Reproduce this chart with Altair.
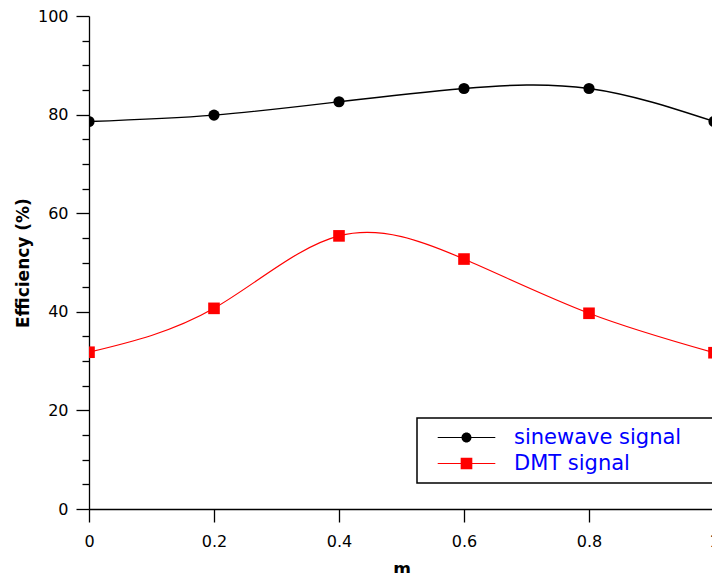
import altair as alt
import pandas as pd

# ---- data ----
m_values = [0.0, 0.2, 0.4, 0.6, 0.8, 1.0]
sinewave = [78.6, 79.9, 82.6, 85.3, 85.3, 78.6]
dmt = [31.8, 40.7, 55.4, 50.7, 39.7, 31.7]
series_names = ["sinewave signal", "DMT signal"]
series_colors = ["#000000", "#ff0000"]

x_ticks = [0, 0.2, 0.4, 0.6, 0.8, 1]
y_major = [0, 20, 40, 60, 80, 100]
y_minor = [5, 10, 15, 25, 30, 35, 45, 50, 55, 65, 70, 75, 85, 90, 95]

rows = []
for name, vals in zip(series_names, [sinewave, dmt]):
    for mv, v in zip(m_values, vals):
        rows.append({"m": mv, "eff": v, "series": name})
df = pd.DataFrame(rows)

FONT = "DejaVu Sans"
xscale = alt.Scale(domain=[0, 1], nice=False, zero=False)
yscale = alt.Scale(domain=[0, 100], nice=False)
color_scale = alt.Scale(domain=series_names, range=series_colors)

# legend symbols: line segment + marker (custom paths)
LEG_CIRCLE = ("M-4.8,-0.09H-0.7V0.09H-4.8Z M0.7,-0.09H4.8V0.09H0.7Z "
              "M0.83,0A0.83,0.83,0,1,1,-0.83,0A0.83,0.83,0,1,1,0.83,0Z")
LEG_SQUARE = ("M-4.8,-0.09H-0.9V0.09H-4.8Z M0.9,-0.09H4.8V0.09H0.9Z "
              "M-0.97,-0.97H0.97V0.97H-0.97Z")

x_axis = alt.Axis(
    values=x_ticks, format="~g", tickSize=13, tickWidth=1.3, tickColor="black",
    domainColor="black", domainWidth=1.3, labelFont=FONT, labelFontSize=16,
    labelColor="black", labelPadding=11, labelFlush=False, labelOverlap=False,
    title="m", titleFont=FONT, titleFontSize=17, titleFontWeight="bold",
    titleColor="black", titlePadding=12, grid=False,
)
y_axis = alt.Axis(
    values=y_major, format="d", orient="left", tickSize=13, tickWidth=1.3,
    tickColor="black", domainColor="black", domainWidth=1.3, labelFont=FONT,
    labelFontSize=16, labelColor="black", labelPadding=8,
    title="Efficiency (%)", titleFont=FONT, titleFontSize=17,
    titleFontWeight="bold", titleColor="black", titlePadding=5, grid=False,
)
y_minor_axis = alt.Axis(
    values=y_minor, orient="left", tickSize=7, tickWidth=1.3, tickColor="black",
    labels=False, domain=False, title=None, grid=False,
)

legend = alt.Legend(
    title=None, orient="none", legendX=328, legendY=402, direction="vertical",
    labelFont=FONT, labelFontSize=21, labelColor="#0000ff", labelLimit=400,
    symbolSize=144, symbolStrokeWidth=0, symbolOffset=30, labelOffset=37,
    symbolOpacity=1, padding=9, rowPadding=4,
    strokeColor="#000000", fillColor="#ffffff",
    labelExpr="datum.label + '\u00a0\u00a0\u00a0\u00a0\u00a0\u00a0\u200b'",
)

base = alt.Chart(df)
X = alt.X("m:Q", scale=xscale, axis=x_axis)


def series_filter(i):
    return alt.datum.series == series_names[i]


line_sine = base.transform_filter(series_filter(0)).mark_line(
    interpolate="natural", strokeWidth=1.4, color=series_colors[0], clip=True
).encode(x=X, y=alt.Y("eff:Q", scale=yscale, axis=y_axis))

line_dmt = base.transform_filter(series_filter(1)).mark_line(
    interpolate="natural", strokeWidth=1.2, color=series_colors[1], clip=True
).encode(x=X, y=alt.Y("eff:Q", scale=yscale, axis=None))

circles = base.transform_filter(series_filter(0)).mark_point(
    shape="circle", filled=True, size=125, color=series_colors[0],
    opacity=1, clip=True
).encode(x=X, y=alt.Y("eff:Q", scale=yscale, axis=y_minor_axis))

squares = base.transform_filter(series_filter(1)).mark_point(
    shape="square", filled=True, size=135, color=series_colors[1],
    opacity=1, clip=True
).encode(x=X, y=alt.Y("eff:Q", scale=yscale, axis=None))

carrier = base.transform_filter("false").mark_point(
    filled=True, size=0, opacity=1
).encode(
    x=X,
    y=alt.Y("eff:Q", scale=yscale, axis=None),
    color=alt.Color("series:N", scale=color_scale, legend=legend),
    shape=alt.Shape("series:N",
                    scale=alt.Scale(domain=series_names, range=[LEG_CIRCLE, LEG_SQUARE]),
                    legend=legend),
)

chart = alt.layer(line_sine, line_dmt, circles, squares, carrier).resolve_axis(
    y="independent"
).properties(
    width=625, height=493,
    padding={"left": 89, "top": 16, "right": -2, "bottom": 64},
    autosize=alt.AutoSizeParams(type="none"),
).configure_view(stroke=None).configure_legend(strokeWidth=1.5)

chart.save("out.html", embed_options={"renderer": "svg", "actions": False})
